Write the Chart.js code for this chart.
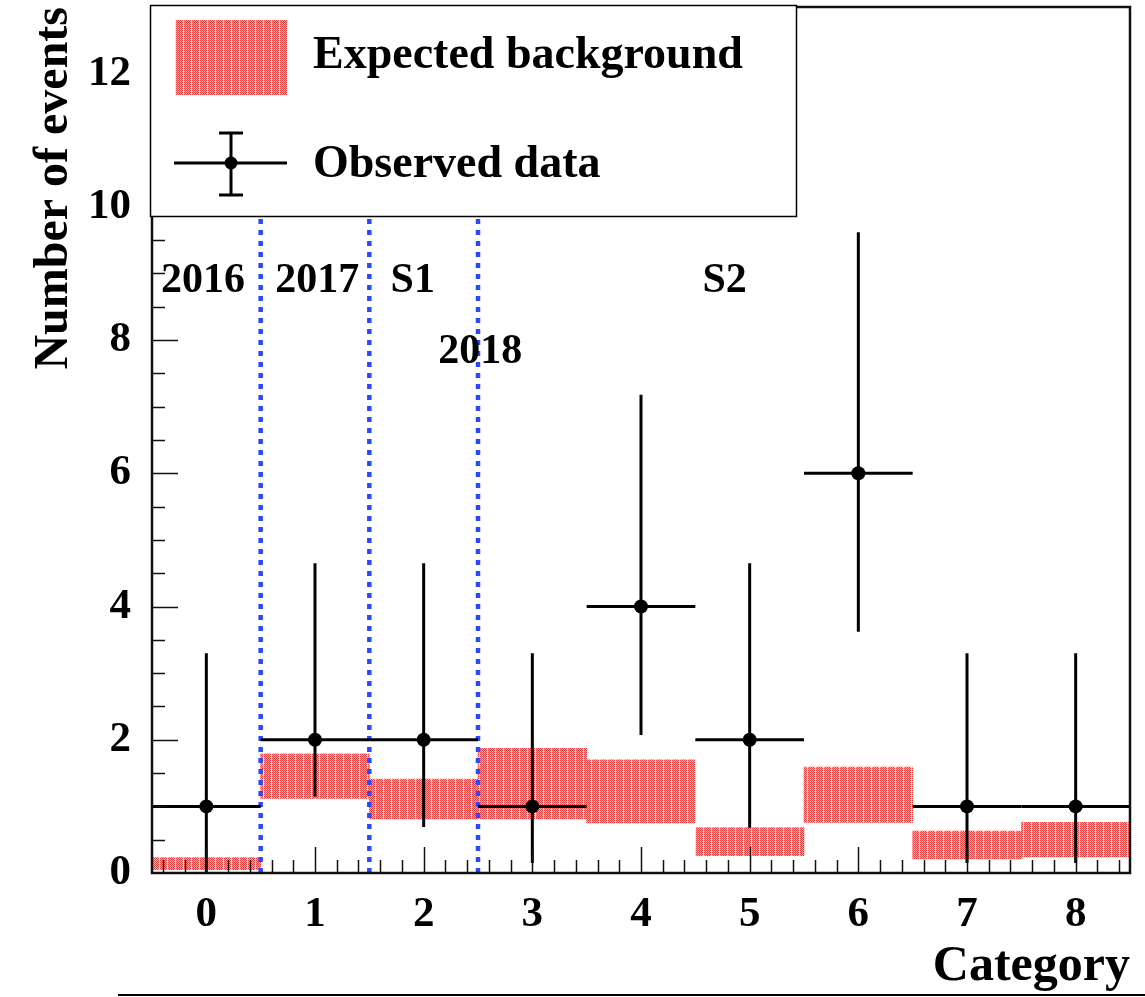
<!DOCTYPE html>
<html>
<head>
<meta charset="utf-8">
<script src="https://cdn.jsdelivr.net/npm/chart.js@4.4.1/dist/chart.umd.min.js"></script>
<style>
  html,body{margin:0;padding:0;background:#fff;}
  #wrap{position:relative;width:1145px;height:997px;}
  #bottomRule{position:absolute;left:118px;top:994px;width:1027px;height:2px;background:#000;}
</style>
</head>
<body>
<div id="wrap">
  <canvas id="chart" width="1145" height="997"></canvas>
  <div id="bottomRule"></div>
</div>
<script>
(function(){
  // values
  const categories = [0, 1, 2, 3, 4, 5, 6, 7, 8];
  const bkgLow  = [0.05, 1.12, 0.81, 0.81, 0.75, 0.26, 0.76, 0.21, 0.24];
  const bkgHigh = [0.23, 1.79, 1.41, 1.87, 1.70, 0.68, 1.59, 0.63, 0.76];
  const observed = [1, 2, 2, 1, 4, 2, 6, 1, 1];
  const errLow  = [0, 1.15, 0.69, 0.15, 2.07, 0.68, 3.62, 0.15, 0.15];
  const errHigh = [3.30, 4.65, 4.65, 3.30, 7.18, 4.65, 9.62, 3.30, 3.30];
  const periodEdges = [0.5, 1.5, 2.5];
  const periodTop = 9.96;
  const xTicks = [0, 1, 2, 3, 4, 5, 6, 7, 8];
  const yTicks = [0, 2, 4, 6, 8, 10, 12];
  const regionText = ['2016', '2017', 'S1', '2018', 'S2'];
  const regionX = [-0.03, 1.02, 1.9, 2.52, 4.77];
  const regionY = [8.72, 8.72, 8.72, 7.66, 8.72];

  const SERIF = '"Liberation Serif", "DejaVu Serif", "Times New Roman", serif';

  function makePattern(ctx){
    const p = document.createElement('canvas');
    p.width = 8; p.height = 2;
    const g = p.getContext('2d');
    for(let x=0;x<8;x++){
      for(let y=0;y<2;y++){
        if(x===7) g.fillStyle = '#fcdcdc';
        else g.fillStyle = ((x+y)%2===0) ? '#f03e3e' : '#f8b0b0';
        g.fillRect(x,y,1,1);
      }
    }
    return ctx.createPattern(p, 'repeat');
  }

  const canvas = document.getElementById('chart');
  const ctx = canvas.getContext('2d');
  const redFill = makePattern(ctx);

  function noPad(s){
    s.paddingTop = 0; s.paddingBottom = 0; s.paddingLeft = 0; s.paddingRight = 0;
  }

  // error bars under the markers
  const errorBars = {
    id: 'errorBars',
    beforeDatasetDraw(chart, args){
      if(args.index !== 0) return;
      const {ctx, scales:{x, y}} = chart;
      ctx.save();
      ctx.strokeStyle = '#000';
      ctx.lineWidth = 3;
      ctx.lineCap = 'butt';
      categories.forEach((c, i) => {
        const px = x.getPixelForValue(c);
        const py = y.getPixelForValue(observed[i]);
        ctx.beginPath();
        ctx.moveTo(x.getPixelForValue(c - 0.5), py);
        ctx.lineTo(x.getPixelForValue(c + 0.5), py);
        ctx.moveTo(px, y.getPixelForValue(errLow[i]));
        ctx.lineTo(px, y.getPixelForValue(errHigh[i]));
        ctx.stroke();
      });
      ctx.restore();
    }
  };

  // ROOT style frame with inward ticks
  const frame = {
    id: 'frame',
    afterDatasetsDraw(chart){
      const {ctx, chartArea:a, scales:{x, y}} = chart;
      ctx.save();
      ctx.strokeStyle = '#111';
      ctx.lineWidth = 1.5;
      ctx.beginPath();
      for(let v = -0.4; v < 8.5; v += 0.2){
        const r = Math.round(v*10)/10;
        const len = Number.isInteger(r) ? 26 : 13;
        const px = Math.round(x.getPixelForValue(r)) + 0.5;
        ctx.moveTo(px, a.bottom); ctx.lineTo(px, a.bottom - len);
      }
      for(let v = 0.5; v < 13; v += 0.5){
        const len = (v % 2 === 0) ? 26 : 13;
        const py = Math.round(y.getPixelForValue(v)) + 0.5;
        ctx.moveTo(a.left, py); ctx.lineTo(a.left + len, py);
      }
      ctx.stroke();
      ctx.lineWidth = 2.5;
      ctx.strokeRect(a.left, a.top, a.right - a.left, a.bottom - a.top);
      ctx.restore();
    },
    afterDraw(chart){
      const {ctx, scales:{x, y}} = chart;
      ctx.save();
      ctx.fillStyle = '#000';
      ctx.font = 'bold 42px ' + SERIF;
      ctx.textAlign = 'center';
      ctx.textBaseline = 'alphabetic';
      regionText.forEach((t, i) => {
        ctx.fillText(t, x.getPixelForValue(regionX[i]), y.getPixelForValue(regionY[i]));
      });

      // legend box
      ctx.fillStyle = '#fff';
      ctx.fillRect(151, 5, 646, 211);
      ctx.strokeStyle = '#000';
      ctx.lineWidth = 1.5;
      ctx.strokeRect(150.5, 5.5, 646, 211);
      ctx.fillStyle = redFill;
      ctx.fillRect(175, 20, 112, 75);
      ctx.strokeStyle = '#000';
      ctx.lineWidth = 3;
      ctx.beginPath();
      ctx.moveTo(174, 163); ctx.lineTo(287, 163);
      ctx.moveTo(231, 132); ctx.lineTo(231, 196);
      ctx.moveTo(219, 133); ctx.lineTo(243, 133);
      ctx.moveTo(219, 195); ctx.lineTo(243, 195);
      ctx.stroke();
      ctx.fillStyle = '#000';
      ctx.beginPath(); ctx.arc(231, 163, 6.5, 0, Math.PI*2); ctx.fill();
      ctx.font = 'bold 46px ' + SERIF;
      ctx.textAlign = 'left';
      ctx.fillText('Expected background', 313, 68);
      ctx.fillText('Observed data', 313, 177);
      ctx.restore();
    }
  };

  new Chart(canvas, {
    type: 'bar',
    data: {
      datasets: [
        {
          type: 'scatter',
          label: 'Observed data',
          data: categories.map((c, i) => ({x: c, y: observed[i]})),
          pointRadius: 7, pointHoverRadius: 7,
          backgroundColor: '#000', borderColor: '#000', borderWidth: 0
        },
        ...periodEdges.map(e => ({
          type: 'line',
          data: [{x: e, y: 0}, {x: e, y: periodTop}],
          borderColor: '#2a48ff', borderWidth: 4.5, borderDash: [5, 6],
          pointRadius: 0, fill: false, tension: 0
        })),
        {
          type: 'bar',
          label: 'Expected background',
          data: categories.map((c, i) => ({x: c, y: [bkgLow[i], bkgHigh[i]]})),
          backgroundColor: redFill, borderWidth: 0,
          barPercentage: 1, categoryPercentage: 1, grouped: false
        }
      ]
    },
    options: {
      responsive: false,
      animation: false,
      events: [],
      layout: { padding: { top: 5, right: 15, left: 0, bottom: 0 } },
      plugins: { legend: { display: false }, tooltip: { enabled: false } },
      scales: {
        x: {
          type: 'linear', min: -0.5, max: 8.5, offset: false,
          grid: { display: false, drawTicks: false },
          border: { display: false },
          ticks: { color: '#000', padding: 16, autoSkip: false, maxRotation: 0,
                   font: { family: SERIF, size: 43, weight: 'bold' } },
          afterBuildTicks: s => { s.ticks = xTicks.map(v => ({value: v})); },
          afterFit: s => { s.height = 124; noPad(s); },
          title: { display: true, text: 'Category', align: 'end', color: '#000',
                   font: { family: SERIF, size: 50, weight: 'bold', lineHeight: 1 },
                   padding: { top: 0, bottom: 5 } }
        },
        y: {
          type: 'linear', min: 0, max: 13,
          grid: { display: false, drawTicks: false },
          border: { display: false },
          ticks: { color: '#000', padding: 21, autoSkip: false,
                   font: { family: SERIF, size: 43, weight: 'bold' } },
          afterBuildTicks: s => { s.ticks = yTicks.map(v => ({value: v})); },
          afterFit: s => { s.width = 152; noPad(s); },
          title: { display: true, text: 'Number of events', align: 'end', color: '#000',
                   font: { family: SERIF, size: 48, weight: 'bold', lineHeight: 1 },
                   padding: { top: 31, bottom: 0 } }
        }
      }
    },
    plugins: [errorBars, frame]
  });
})();
</script>
</body>
</html>
